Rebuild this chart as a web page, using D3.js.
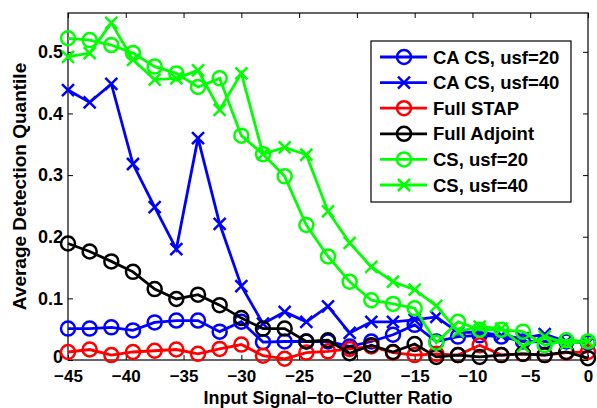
<!DOCTYPE html>
<html>
<head>
<meta charset="utf-8">
<script src="https://cdn.jsdelivr.net/npm/d3@7"></script>
<style>
  body { margin: 0; background: #fff; }
  svg { display: block; font-family: 'Liberation Sans', Arial, sans-serif; font-weight: bold; }
</style>
</head>
<body>
<div id="chart"></div>
<script>
// input SCR values (dB)
const scr = [-45, -43.125, -41.25, -39.375, -37.5, -35.625, -33.75, -31.875, -30,
  -28.125, -26.25, -24.375, -22.5, -20.625, -18.75, -16.875, -15, -13.125,
  -11.25, -9.375, -7.5, -5.625, -3.75, -1.875, 0]

const caCs20 = [0.051, 0.051, 0.053, 0.048, 0.061, 0.064, 0.064, 0.046, 0.062,
  0.029, 0.030, 0.030, 0.030, 0.022, 0.030, 0.041, 0.057, 0.030, 0.038,
  0.040, 0.038, 0.030, 0.030, 0.030, 0.028]
const caCs40 = [0.438, 0.418, 0.448, 0.318, 0.248, 0.180, 0.360, 0.221, 0.120,
  0.059, 0.078, 0.062, 0.087, 0.044, 0.062, 0.062, 0.065, 0.070, 0.045,
  0.045, 0.040, 0.035, 0.042, 0.030, 0.028]
const fullStap = [0.013, 0.017, 0.008, 0.013, 0.015, 0.017, 0.010, 0.018, 0.025,
  0.007, 0.002, 0.012, 0.014, 0.018, 0.022, 0.012, 0.008, 0.010, 0.008,
  0.024, 0.008, 0.010, 0.008, 0.012, 0.013]
const fullAdjoint = [0.189, 0.176, 0.160, 0.143, 0.115, 0.099, 0.106, 0.089, 0.068,
  0.051, 0.051, 0.030, 0.032, 0.011, 0.024, 0.013, 0.026, 0.005, 0.008,
  0.005, 0.008, 0.010, 0.008, 0.013, 0.003]
const cs20 = [0.522, 0.519, 0.511, 0.498, 0.476, 0.465, 0.443, 0.457, 0.364,
  0.334, 0.298, 0.219, 0.168, 0.127, 0.097, 0.091, 0.084, 0.028, 0.062,
  0.049, 0.049, 0.046, 0.024, 0.032, 0.030]
const cs40 = [0.492, 0.498, 0.547, 0.487, 0.455, 0.457, 0.470, 0.406, 0.465,
  0.334, 0.345, 0.333, 0.241, 0.190, 0.151, 0.127, 0.114, 0.088, 0.046,
  0.054, 0.051, 0.022, 0.038, 0.027, 0.030]

const seriesNames = ['CA CS, usf=20', 'CA CS, usf=40', 'Full STAP', 'Full Adjoint', 'CS, usf=20', 'CS, usf=40']
const seriesColors = ['#0000ff', '#0000ff', '#ff0000', '#000000', '#00ff00', '#00ff00']
const seriesMarkers = ['o', 'x', 'o', 'o', 'o', 'x']
const seriesValues = [caCs20, caCs40, fullStap, fullAdjoint, cs20, cs40]

const xTicks = [-45, -40, -35, -30, -25, -20, -15, -10, -5, 0]
const yTicks = [0, 0.1, 0.2, 0.3, 0.4, 0.5]

const W = 597, H = 408
const margin = { top: 13, right: 9, bottom: 48, left: 68 }
const width = W - margin.left - margin.right
const height = H - margin.top - margin.bottom

const svg = d3.select('#chart').append('svg')
  .attr('width', W).attr('height', H)

const g = svg.append('g')
  .attr('transform', `translate(${margin.left},${margin.top})`)

const x = d3.scaleLinear().domain([-45, 0]).range([0, width])
const y = d3.scaleLinear().domain([0, 0.563]).range([height, 0])

const fmtY = (d) => (d === 0 ? '0' : d3.format('.1f')(d))

// axes (ticks inward, on all four sides)
g.append('g')
  .attr('transform', `translate(0,${height})`)
  .call(d3.axisBottom(x).tickValues(xTicks).tickSize(-5).tickPadding(10).tickFormat(d3.format('d')))
  .call((a) => a.select('.domain').remove())
  .selectAll('text').style('font-size', '17px')

g.append('g')
  .call(d3.axisTop(x).tickValues(xTicks).tickSize(-5).tickFormat(''))
  .call((a) => a.select('.domain').remove())

g.append('g')
  .call(d3.axisLeft(y).tickValues(yTicks).tickSize(-5).tickPadding(5).tickFormat(fmtY))
  .call((a) => a.select('.domain').remove())
  .selectAll('text').style('font-size', '18px')
  .attr('dy', (d) => (d === 0 ? '0.15em' : '0.32em')) // keep "0" clear of the -45 label

g.append('g')
  .attr('transform', `translate(${width},0)`)
  .call(d3.axisRight(y).tickValues(yTicks).tickSize(-5).tickFormat(''))
  .call((a) => a.select('.domain').remove())

g.selectAll('.tick line').attr('stroke', '#000').attr('stroke-width', 1)

g.append('rect')
  .attr('width', width).attr('height', height)
  .attr('fill', 'none').attr('stroke', '#000').attr('stroke-width', 1.2)

// series
const line = d3.line().x((d, i) => x(scr[i])).y((d) => y(d))

function drawMarker(sel, type, color) {
  if (type === 'o') {
    sel.append('circle').attr('r', 7)
      .attr('fill', 'none').attr('stroke', color).attr('stroke-width', 2.5)
  } else {
    sel.append('path').attr('d', 'M-6,-6L6,6M-6,6L6,-6')
      .attr('fill', 'none').attr('stroke', color).attr('stroke-width', 2.5)
  }
}

seriesValues.forEach((vals, s) => {
  const sg = g.append('g')
  sg.append('path')
    .datum(vals)
    .attr('d', line)
    .attr('fill', 'none')
    .attr('stroke', seriesColors[s])
    .attr('stroke-width', 2.8)
  sg.selectAll('.m')
    .data(vals)
    .enter()
    .append('g')
    .attr('transform', (d, i) => `translate(${x(scr[i])},${y(d)})`)
    .each(function () { drawMarker(d3.select(this), seriesMarkers[s], seriesColors[s]) })
})

// legend
const lg = svg.append('g').attr('transform', 'translate(371,41)')
lg.append('rect').attr('width', 200).attr('height', 161)
  .attr('fill', '#fff').attr('stroke', '#000').attr('stroke-width', 1.2)
seriesNames.forEach((name, i) => {
  const row = lg.append('g').attr('transform', `translate(0,${16 + i * 25.6})`)
  row.append('line').attr('x1', 9).attr('x2', 56)
    .attr('stroke', seriesColors[i]).attr('stroke-width', 2.8)
  drawMarker(row.append('g').attr('transform', 'translate(33,0)'), seriesMarkers[i], seriesColors[i])
  row.append('text').attr('x', 62).attr('y', 6.5)
    .style('font-size', '18.5px').text(name)
})

// axis labels
svg.append('text')
  .attr('x', margin.left + width / 2).attr('y', 404)
  .attr('text-anchor', 'middle').style('font-size', '18px')
  .text('Input Signal\u2212to\u2212Clutter Ratio')

svg.append('text')
  .attr('transform', `translate(26,${margin.top + height / 2}) rotate(-90)`)
  .attr('text-anchor', 'middle').style('font-size', '19px')
  .text('Average Detection Quantile')
</script>
</body>
</html>
